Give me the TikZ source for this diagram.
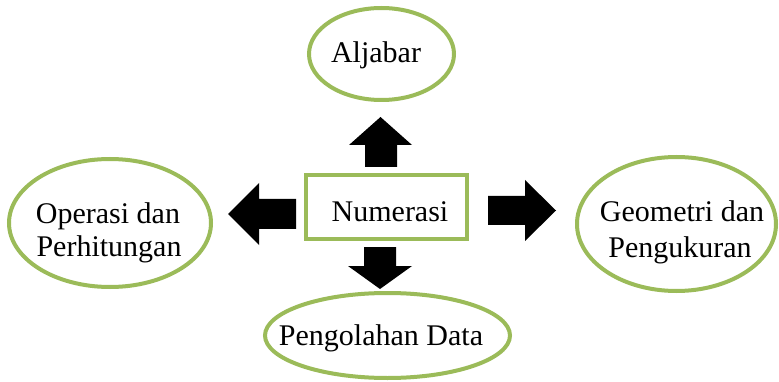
\documentclass[tikz,border=0pt]{standalone}
\usepackage{fontspec}
\setmainfont{Liberation Serif}
\usetikzlibrary{shapes.geometric}
\definecolor{olivegreen}{HTML}{9BBB59}
\begin{document}
\begin{tikzpicture}[x=1pt,y=-1pt,
  oval/.style={draw=olivegreen, line width=4pt, ellipse, inner sep=0pt, fill=white},
  box/.style={draw=olivegreen, line width=4pt, rectangle, inner sep=0pt, fill=white},
  lbl/.style={font=\fontsize{30}{34}\selectfont, anchor=base, inner sep=0pt},
  blk/.style={fill=black}]
\useasboundingbox (0,0) rectangle (779,382);

% shapes
\node[oval, minimum width=145pt, minimum height=92pt] (alj) at (381.5,54) {};
\node[oval, minimum width=202pt, minimum height=128pt] (ops) at (110,223) {};
\node[oval, minimum width=199pt, minimum height=134pt] (geo) at (676.5,224) {};
\node[oval, minimum width=245pt, minimum height=85pt] (dat) at (387.5,335.5) {};
\node[box, minimum width=161pt, minimum height=64pt] (num) at (386.5,207) {};

% texts
\node[lbl] (talj) at (376,63) {Aljabar};
\node[lbl] (tnum) at (390,222) {Numerasi};
\node[lbl] (tops1) at (108,223) {Operasi dan};
\node[lbl] (tops2) at (109,256) {Perhitungan};
\node[lbl] (tgeo1) at (682,222) {Geometri dan};
\node[lbl] (tgeo2) at (680,257) {Pengukuran};
\node[lbl] (tdat) at (381,345) {Pengolahan Data};

% block arrows
\fill[blk] (365,167) -- (365,145) -- (349,145) -- (380.5,117) -- (412,145) -- (397,145) -- (397,167) -- cycle;
\fill[blk] (296,199) -- (259,199) -- (259,183) -- (228,214) -- (259,245) -- (259,229) -- (296,229) -- cycle;
\fill[blk] (488,196) -- (525,196) -- (525,180) -- (556,210.5) -- (525,241) -- (525,225) -- (488,225) -- cycle;
\fill[blk] (364,247) -- (396,247) -- (396,266) -- (412,266) -- (380,289) -- (348,266) -- (364,266) -- cycle;
\end{tikzpicture}
\end{document}
